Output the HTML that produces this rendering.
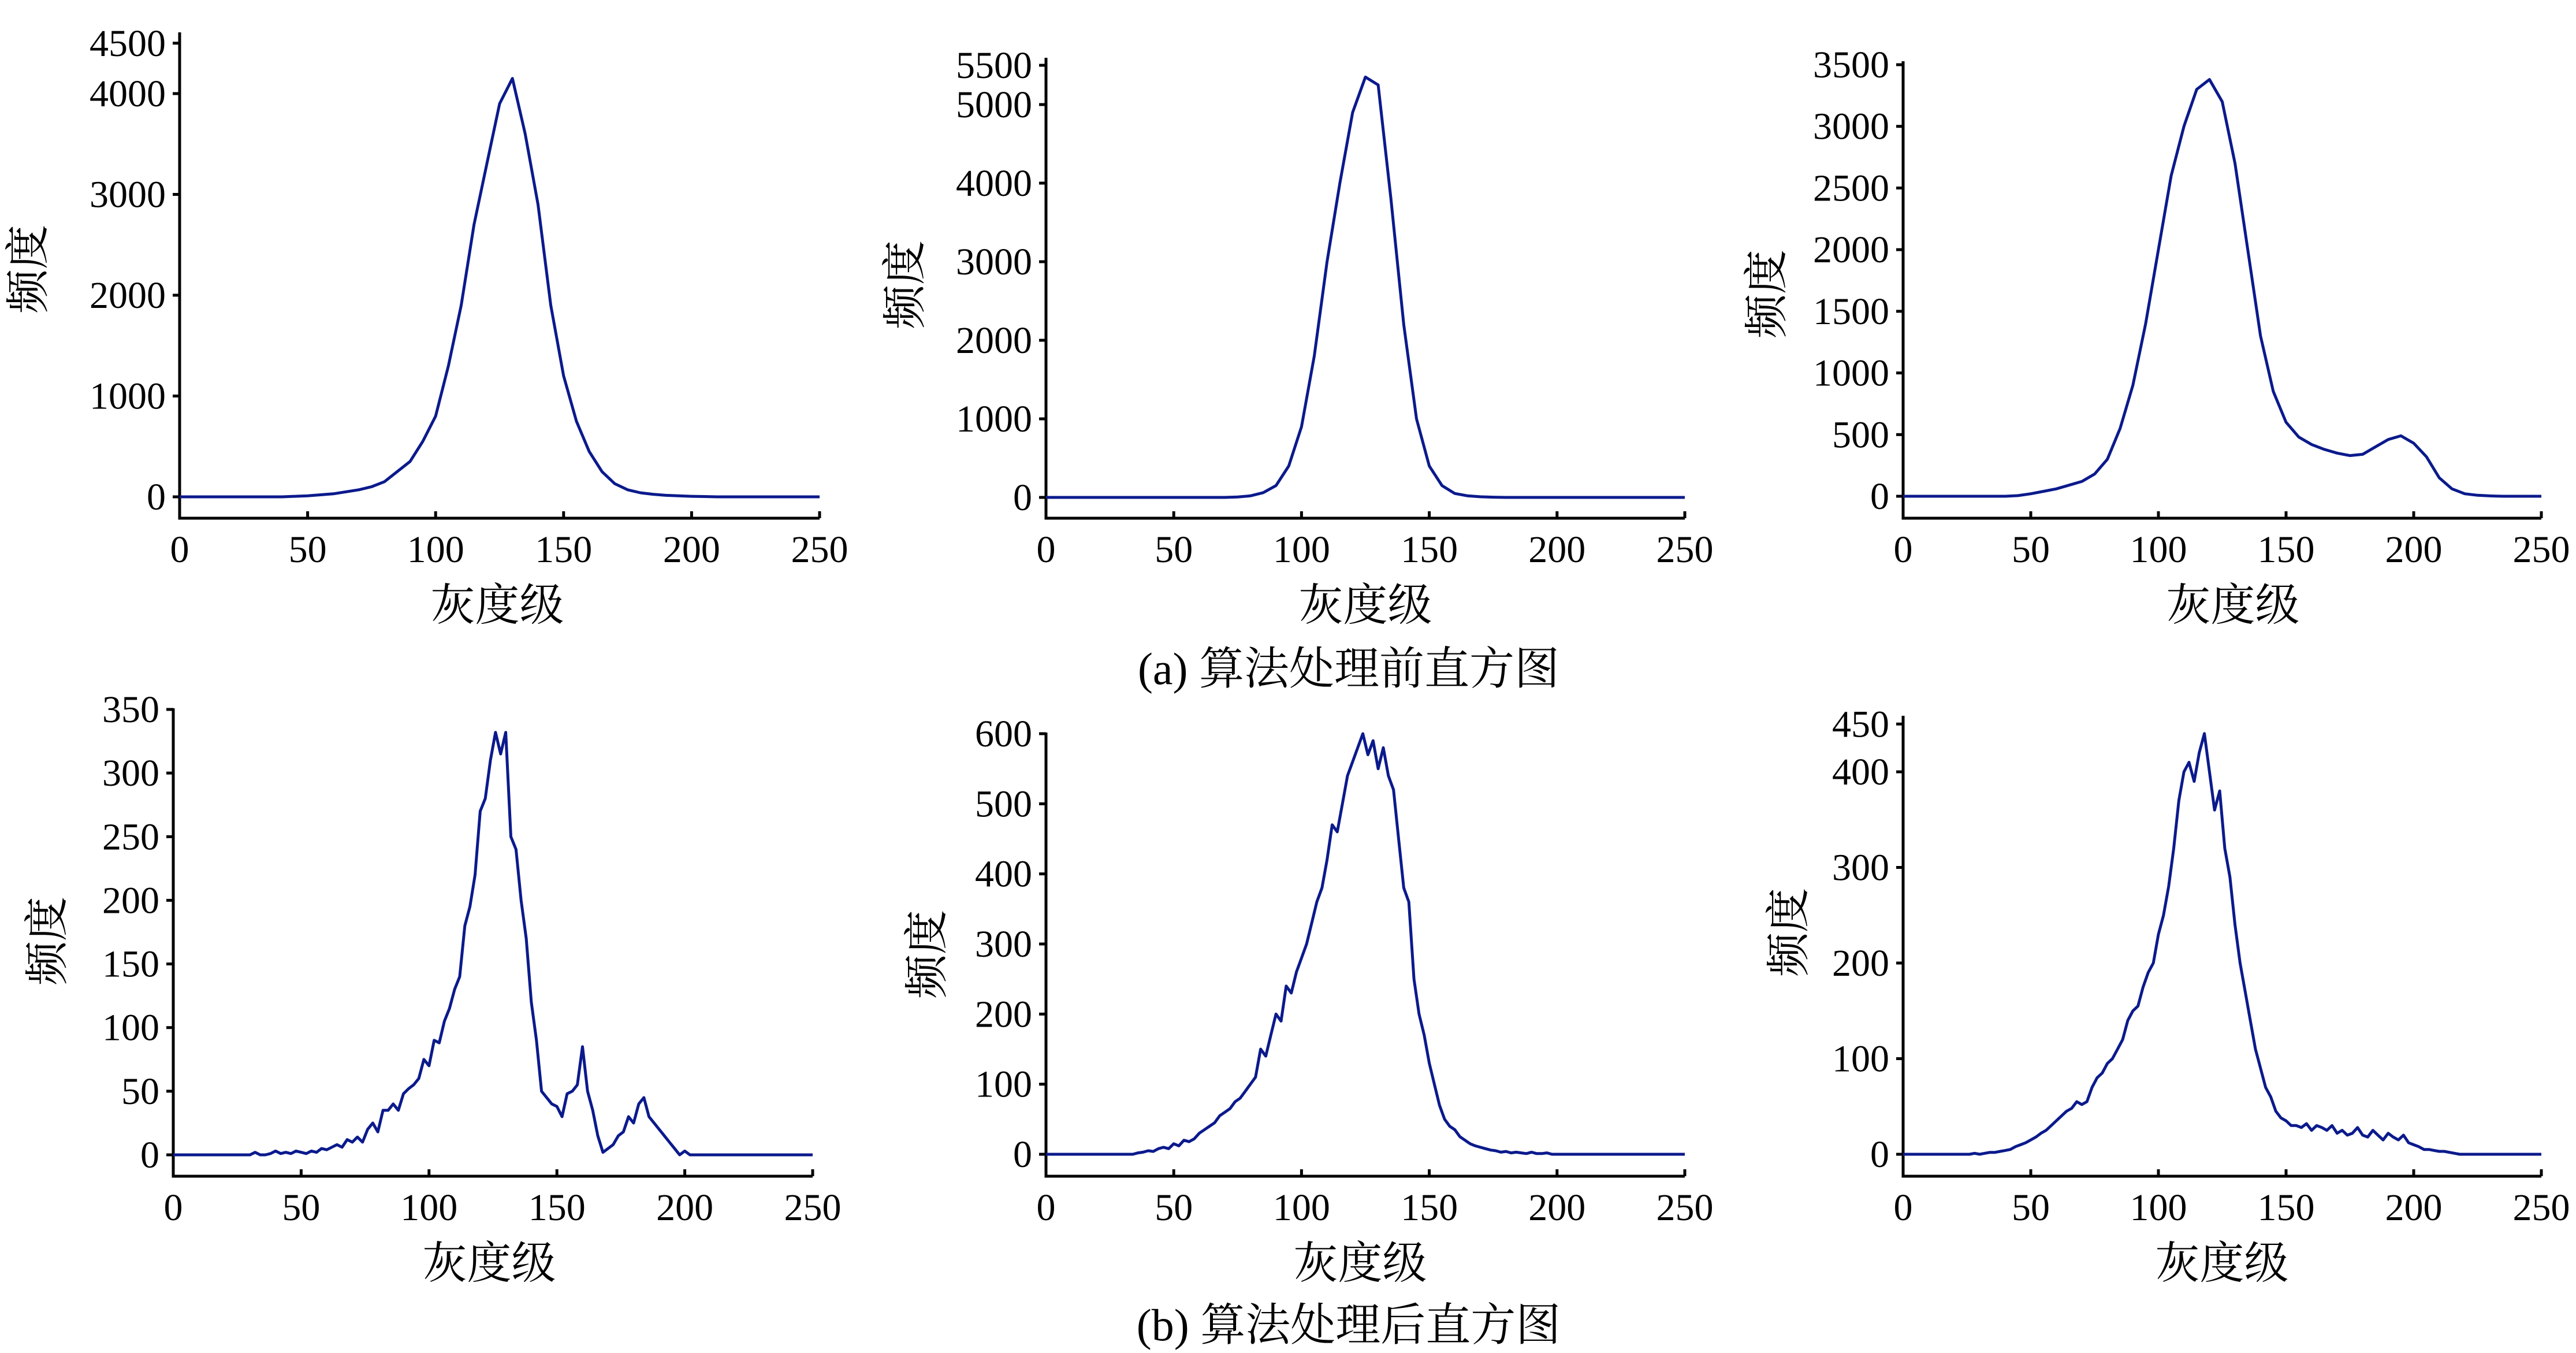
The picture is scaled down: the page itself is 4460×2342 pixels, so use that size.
<!DOCTYPE html>
<html><head><meta charset="utf-8"><style>
html,body{margin:0;padding:0;background:#fff;}
svg{display:block;}
text{font-family:"Liberation Serif","Noto Serif CJK SC","Noto Sans CJK SC",serif;fill:#000;}
</style></head><body>
<svg id="fig" width="4460" height="2342" viewBox="0 0 4460 2342" xmlns="http://www.w3.org/2000/svg">
<rect width="4460" height="2342" fill="#fff"/>
<text x="2335" y="1184" font-size="78" text-anchor="middle">(a) 算法处理前直方图</text>
<text x="2335" y="2320" font-size="78" text-anchor="middle">(b) 算法处理后直方图</text>
</svg>
<script>
// ---- data arrays (gray level step + start, frequency values) ----
const xTicks = [0, 50, 100, 150, 200, 250];
const ticks1 = [0, 1000, 2000, 3000, 4000, 4500];
const ticks2 = [0, 1000, 2000, 3000, 4000, 5000, 5500];
const ticks3 = [0, 500, 1000, 1500, 2000, 2500, 3000, 3500];
const ticks4 = [0, 50, 100, 150, 200, 250, 300, 350];
const ticks5 = [0, 100, 200, 300, 400, 500, 600];
const ticks6 = [0, 100, 200, 300, 400, 450];

const start1 = 40, step1 = 5;
const values1 = [0,5,10,20,30,50,70,100,150,250,350,550,800,1300,1900,2700,3300,3900,4150,3600,2900,1900,1200,750,450,250,130,70,40,25,15,10,5,3];
const start2 = 70, step2 = 5;
const values2 = [0,5,20,60,150,400,900,1800,3000,4000,4900,5350,5250,3800,2200,1000,400,150,50,20,8,3];
const start3 = 40, step3 = 5;
const values3 = [0,5,20,40,60,90,120,180,300,550,900,1400,2000,2600,3000,3300,3380,3200,2700,2000,1300,850,600,480,420,380,350,330,340,400,460,490,430,320,150,60,20,8,3];
const start4 = 32, step4 = 2;
const values4 = [2,0,0,1,3,1,2,1,3,2,1,3,2,5,4,6,8,6,12,10,14,10,20,25,18,35,35,40,35,48,52,55,60,75,70,90,88,105,115,130,140,180,195,220,270,280,310,332,315,332,250,240,200,170,120,90,50,45,40,38,30,48,50,55,85,50,35,15,2,5,8,15,18,30,25,40,45,30,25,20,15,10,5,0,3,0];
const start5 = 36, step5 = 2;
const values5 = [2,3,5,4,8,10,8,15,12,20,18,22,30,35,40,45,55,60,65,75,80,90,100,110,150,140,170,200,190,240,230,260,280,300,330,360,380,420,470,460,500,540,560,580,600,570,590,550,580,540,520,450,380,360,250,200,170,130,100,70,50,40,35,25,20,15,12,10,8,6,5,3,4,2,3,2,1,3,1,1,2,0];
const start6 = 28, step6 = 2;
const values6 = [1,0,1,2,2,3,4,5,8,10,12,15,18,22,25,30,35,40,45,48,55,52,55,70,80,85,95,100,110,120,140,150,155,175,190,200,230,250,280,320,370,400,410,390,420,440,400,360,380,320,290,240,200,170,140,110,90,70,60,45,38,35,30,30,28,32,25,30,28,25,30,22,25,20,22,28,20,18,25,20,15,22,18,15,20,12,10,8,5,5,4,3,3,2,1,0];

const svg = document.getElementById('fig');
const NS = 'http://www.w3.org/2000/svg';

function mk(tag, attrs){
  const e = document.createElementNS(NS, tag);
  for (const k in attrs) e.setAttribute(k, attrs[k]);
  svg.appendChild(e);
  return e;
}

function panel(id, cfg, ticks, start, step, values){
  const xs = v => cfg.x0 + (v/250)*(cfg.x1-cfg.x0);
  const ys = v => cfg.y0 - (v/cfg.refV)*(cfg.y0-cfg.refY);
  const ax = mk('path', {d:`M${cfg.x0},${cfg.top} L${cfg.x0},${cfg.bot} L${cfg.x1},${cfg.bot}`, fill:'none', stroke:'#000', 'stroke-width':5});
  
  
  ticks.forEach(t => {
    const y = ys(t);
    const tk = mk('line', {x1:cfg.x0-12, x2:cfg.x0, y1:y, y2:y, stroke:'#000', 'stroke-width':5});
    
    
    const lb = mk('text', {x:cfg.x0-24, y:y+22, 'font-size':66, 'text-anchor':'end'});
    lb.textContent = t;
    
    
  });
  xTicks.forEach(t => {
    const x = xs(t);
    const tk = mk('line', {x1:x, x2:x, y1:cfg.bot-12, y2:cfg.bot, stroke:'#000', 'stroke-width':5});
    
    
    const lb = mk('text', {x:x, y:cfg.bot+76, 'font-size':66, 'text-anchor':'middle'});
    lb.textContent = t;
    
    
  });
  const xt = mk('text', {x:cfg.xtx, y:cfg.bot+177, 'font-size':77, 'text-anchor':'middle'});
  xt.textContent = '灰度级';
  
  
  const yt = mk('text', {x:0, y:0, 'font-size':77, 'text-anchor':'middle', transform:`translate(${cfg.ytx+27},${cfg.yty}) rotate(-90)`});
  yt.textContent = '频度';
  
  
  const pts = [[0,0],[start-step,0]];
  values.forEach((v,i) => pts.push([start+i*step, v]));
  pts.push([start+values.length*step,0],[250,0]);
  const d = pts.map((p,i)=>(i?'L':'M')+xs(p[0]).toFixed(1)+','+ys(p[1]).toFixed(1)).join(' ');
  const ln = mk('path', {d:d, fill:'none', stroke:'#0b1a8c', 'stroke-width':5, 'stroke-linejoin':'round'});
  
  
}

panel('chart-a1', {x0:311,x1:1419,y0:860,refV:4000,refY:162,top:56,bot:897,xtx:861,ytx:48,yty:466}, ticks1, start1, step1, values1);
panel('chart-a2', {x0:1811,x1:2917,y0:861,refV:4000,refY:317,top:100,bot:897,xtx:2364,ytx:1566,yty:493}, ticks2, start2, step2, values2);
panel('chart-a3', {x0:3295,x1:4400,y0:859,refV:3500,refY:112,top:106,bot:897,xtx:3866,ytx:3058,yty:509}, ticks3, start3, step3, values3);
panel('chart-b1', {x0:300,x1:1407,y0:1999,refV:350,refY:1228,top:1226,bot:2036,xtx:847,ytx:81,yty:1629}, ticks4, start4, step4, values4);
panel('chart-b2', {x0:1811,x1:2917,y0:1998,refV:600,refY:1270,top:1268,bot:2036,xtx:2355,ytx:1604,yty:1652}, ticks5, start5, step5, values5);
panel('chart-b3', {x0:3295,x1:4400,y0:1998,refV:400,refY:1336,top:1239,bot:2036,xtx:3847,ytx:3096,yty:1614}, ticks6, start6, step6, values6);
</script>
</body></html>
